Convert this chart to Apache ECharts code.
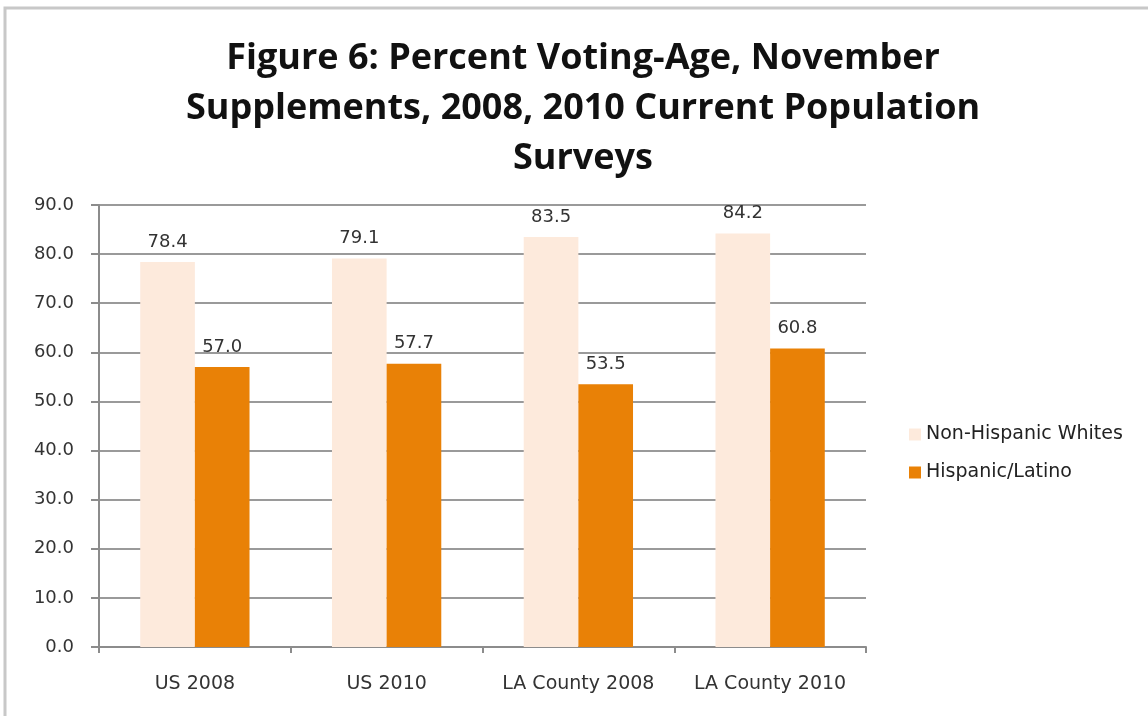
<!DOCTYPE html>
<html>
<head>
<meta charset="utf-8">
<script src="https://cdn.jsdelivr.net/npm/echarts@6/dist/echarts.min.js"></script>
<style>
  html, body { margin: 0; padding: 0; background: #fff; }
  #chart { width: 1148px; height: 716px; }
</style>
</head>
<body>
<div id="chart"></div>
<script>
// Voting-age share by group, CPS November supplements
const categories = ['US 2008', 'US 2010', 'LA County 2008', 'LA County 2010'];
const nonHispanicWhites = [78.4, 79.1, 83.5, 84.2];
const hispanicLatino = [57.0, 57.7, 53.5, 60.8];
const seriesNames = ['Non-Hispanic Whites', 'Hispanic/Latino'];
const titleText = 'Figure 6: Percent Voting-Age, November\nSupplements, 2008, 2010 Current Population\nSurveys';

const TITLE_FONT = '"Open Sans", "Noto Sans", sans-serif';
const FONT = '"DejaVu Sans", sans-serif';
const chart = echarts.init(document.getElementById('chart'), null, { renderer: 'canvas' });

const labelStyle = {
  show: true,
  position: 'top',
  distance: 11,
  color: '#333',
  fontFamily: FONT,
  fontSize: 18,
  formatter: p => p.value.toFixed(1)
};

chart.setOption({
  backgroundColor: '#fff',
  animation: false,
  graphic: [{
    type: 'rect',
    shape: { x: 5, y: 8, width: 1160, height: 720 },
    style: { fill: 'none', stroke: '#c8c8c8', lineWidth: 3 },
    z: -1
  }],
  title: {
    text: titleText,
    left: 578,
    textAlign: 'center',
    top: 29,
    textStyle: {
      fontFamily: TITLE_FONT,
      fontWeight: 'bold',
      fontSize: 36,
      lineHeight: 50,
      color: '#111'
    }
  },
  legend: {
    orient: 'vertical',
    left: 904,
    top: 420,
    itemWidth: 12,
    itemHeight: 12,
    itemGap: 19,
    icon: 'rect',
    textStyle: { fontFamily: FONT, fontSize: 19, color: '#222' },
    data: seriesNames
  },
  grid: { left: 99, right: 282, top: 205, bottom: 69, containLabel: false },
  xAxis: {
    type: 'category',
    data: categories,
    axisLine: { lineStyle: { color: '#8c8c8c', width: 2 } },
    axisTick: { show: true, interval: 0, length: 6, lineStyle: { color: '#8c8c8c', width: 2 } },
    axisLabel: { interval: 0, hideOverlap: false, fontFamily: FONT, fontSize: 19, color: '#333', margin: 28 }
  },
  yAxis: {
    type: 'value',
    min: 0,
    max: 90,
    interval: 10,
    axisLine: { show: true, lineStyle: { color: '#8c8c8c', width: 2 } },
    axisTick: { show: true, length: 8, lineStyle: { color: '#8c8c8c', width: 2 } },
    axisLabel: {
      fontFamily: FONT, fontSize: 18, color: '#333', margin: 25,
      formatter: v => v.toFixed(1)
    },
    splitLine: { show: true, lineStyle: { color: '#9a9a9a', width: 2 } }
  },
  series: [
    {
      name: seriesNames[0],
      type: 'bar',
      data: nonHispanicWhites,
      itemStyle: { color: '#fdeadc' },
      barGap: '0%',
      barCategoryGap: '43%',
      label: labelStyle
    },
    {
      name: seriesNames[1],
      type: 'bar',
      data: hispanicLatino,
      itemStyle: { color: '#e98106' },
      label: labelStyle
    }
  ]
});
</script>
</body>
</html>
